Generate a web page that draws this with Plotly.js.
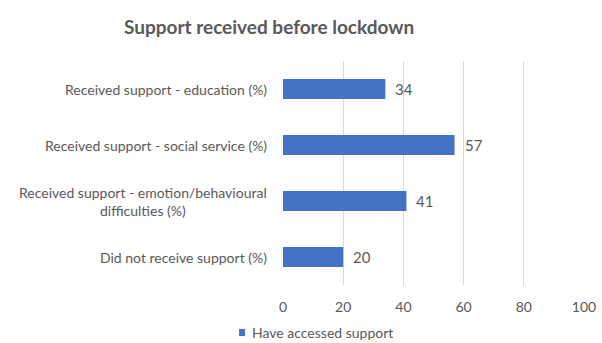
<!DOCTYPE html>
<html>
<head>
<meta charset="utf-8">
<script src="https://cdn.plot.ly/plotly-3.0.1.min.js"></script>
<style>html,body{margin:0;padding:0;background:#fff;}#chart{width:602px;height:343px;}</style>
</head>
<body>
<div id="chart"></div>
<script>
var categories = [
  "Received support - education (%)",
  "Received support - social service (%)",
  "Received support - emotion/behavioural<br>difficulties (%)",
  "Did not receive support (%)"
];
var values = [34, 57, 41, 20];
var seriesName = "Have accessed support";
var xTicks = [0, 20, 40, 60, 80, 100];
var chartTitle = "Support received before lockdown";

var textColor = "#595959";
var barColor = "#4472C4";
var fontFam = "Lato, Carlito, Calibri, 'Open Sans', sans-serif";

var trace = {
  type: "bar",
  orientation: "h",
  y: categories,
  x: values,
  name: seriesName,
  marker: {color: barColor},
  width: 0.36,
  hoverinfo: "none",
  showlegend: false
};

var annotations = [];
categories.forEach(function(c, i){
  annotations.push({
    xref: "paper", yref: "y", x: 0, y: c, xanchor: "right", yanchor: "middle",
    xshift: -14, text: c, showarrow: false, align: "center",
    font: {family: fontFam, size: 14, color: textColor}
  });
  annotations.push({
    xref: "x", yref: "y", x: values[i], y: c, xanchor: "left", yanchor: "middle",
    xshift: 8, text: String(values[i]), showarrow: false,
    font: {family: fontFam, size: 15, color: textColor}
  });
});
// legend text
annotations.push({
  xref: "paper", yref: "paper", x: -0.11, y: -0.212, xanchor: "left", yanchor: "middle",
  text: seriesName, showarrow: false,
  font: {family: fontFam, size: 14, color: textColor}
});

var layout = {
  width: 602, height: 343,
  margin: {l: 283, r: 18, t: 61, b: 58},
  paper_bgcolor: "#ffffff", plot_bgcolor: "#ffffff",
  title: {
    text: "<b>" + chartTitle + "</b>",
    xref: "container", yref: "container", x: 0.447, y: 0.921,
    xanchor: "center", yanchor: "middle",
    font: {family: fontFam, size: 19, color: textColor}
  },
  xaxis: {
    range: [0, 100], tickvals: xTicks, ticktext: xTicks.map(String),
    showgrid: true, gridcolor: "#d9d9d9", gridwidth: 1,
    zeroline: false, showline: false,
    tickfont: {family: fontFam, size: 14, color: textColor},
    ticks: "", ticklen: 0, ticklabelstandoff: 12, fixedrange: true
  },
  yaxis: {
    autorange: "reversed", showticklabels: false, showgrid: false,
    zeroline: false, showline: false, ticks: "", fixedrange: true
  },
  showlegend: false,
  shapes: [{
    type: "rect", xref: "paper", yref: "paper",
    x0: -0.146, x1: -0.126, y0: -0.228, y1: -0.196,
    fillcolor: barColor, line: {width: 0}
  }],
  annotations: annotations
};

Plotly.newPlot("chart", [trace], layout, {displayModeBar: false, staticPlot: true});
</script>
</body>
</html>
